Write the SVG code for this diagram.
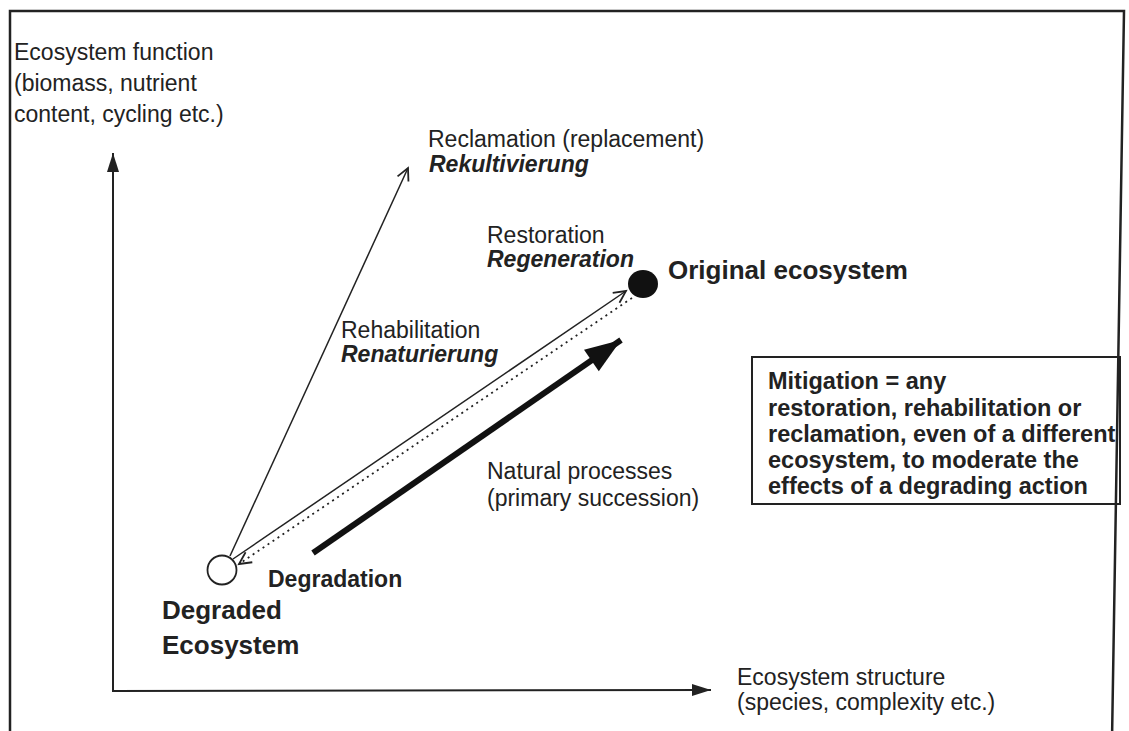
<svg xmlns="http://www.w3.org/2000/svg" width="1129" height="731" viewBox="0 0 1129 731">
<style>
text{font-family:"Liberation Sans",Arial,sans-serif;fill:#222;}
.r{font-size:23px;}
.b{font-size:23px;font-weight:bold;}
.bx{font-size:23.5px;font-weight:bold;}
.bi{font-size:23px;font-weight:bold;font-style:italic;}
.big{font-size:26px;font-weight:bold;}
.axis{stroke:#222;stroke-width:2;fill:none;}
.thin{stroke:#222;stroke-width:1.5;fill:none;}
.dot{stroke:#222;stroke-width:1.8;fill:none;stroke-dasharray:2 4;}
.thick{stroke:#111;stroke-width:6;fill:none;}
</style>
<defs>
<marker id="axhead" markerUnits="userSpaceOnUse" markerWidth="24" markerHeight="16" viewBox="-20 -8 24 16" refX="0" refY="0" orient="auto"><path d="M0,0 L-19,-6 L-19,6 Z" fill="#222"/></marker>
<marker id="open" markerUnits="userSpaceOnUse" markerWidth="18" markerHeight="16" viewBox="-15 -8 18 16" refX="0" refY="0" orient="auto"><path d="M-12,-6 L0,0 L-12,6" fill="none" stroke="#222" stroke-width="1.8"/></marker>
<marker id="bighead" markerUnits="userSpaceOnUse" markerWidth="42" markerHeight="32" viewBox="-38 -16 42 32" refX="0" refY="0" orient="auto"><path d="M0,0 L-36,-13 L-36,13 Z" fill="#111"/></marker>
</defs>
<rect width="1129" height="731" fill="#fff"/>
<path id="frame" d="M1112,740 L1124,11 L10,11 L10,740" fill="none" stroke="#222" stroke-width="2.5"/>
<g id="connectors">
<line class="axis" x1="113" y1="691" x2="113" y2="153" marker-end="url(#axhead)"/>
<line class="axis" x1="112" y1="691" x2="711" y2="690" marker-end="url(#axhead)"/>
<line class="thin" x1="230" y1="556" x2="408" y2="168" marker-end="url(#open)"/>
<line class="thin" x1="233" y1="559" x2="626" y2="291" marker-end="url(#open)"/>
<line class="dot" x1="632" y1="298" x2="239" y2="564" marker-end="url(#open)"/>
<line class="thick" x1="313" y1="553" x2="621" y2="340" marker-end="url(#bighead)"/>
</g>
<g id="y-axis-label">
<text class="r" x="14" y="60">Ecosystem function</text>
<text class="r" x="14" y="91">(biomass, nutrient</text>
<text class="r" x="14" y="122">content, cycling etc.)</text>
</g>
<g id="x-axis-label">
<text class="r" x="737" y="685">Ecosystem structure</text>
<text class="r" x="737" y="710">(species, complexity etc.)</text>
</g>
<g id="reclamation">
<text class="r" x="428" y="147">Reclamation (replacement)</text>
<text class="bi" x="429" y="172">Rekultivierung</text>
</g>
<g id="restoration">
<text class="r" x="487" y="243">Restoration</text>
<text class="bi" x="487" y="267">Regeneration</text>
</g>
<g id="rehabilitation">
<text class="r" x="341" y="338">Rehabilitation</text>
<text class="bi" x="341" y="362">Renaturierung</text>
</g>
<g id="natural">
<text class="r" x="487" y="479">Natural processes</text>
<text class="r" x="487" y="506">(primary succession)</text>
</g>
<g id="original">
<ellipse cx="643" cy="284" rx="15" ry="14" fill="#111"/>
<text class="big" x="668" y="279">Original ecosystem</text>
</g>
<g id="degraded">
<circle cx="222" cy="570" r="14.5" fill="#fff" stroke="#222" stroke-width="1.8"/>
<text class="big" x="162" y="619">Degraded</text>
<text class="big" x="162" y="654">Ecosystem</text>
</g>
<g id="degradation">
<text class="b" x="268" y="587">Degradation</text>
</g>
<g id="mitigation">
<rect x="752" y="357" width="368" height="147" fill="none" stroke="#222" stroke-width="2"/>
<text class="bx" x="768" y="389">Mitigation = any</text>
<text class="bx" x="768" y="416">restoration, rehabilitation or</text>
<text class="bx" x="768" y="442">reclamation, even of a different</text>
<text class="bx" x="768" y="468">ecosystem, to moderate the</text>
<text class="bx" x="768" y="494">effects of a degrading action</text>
</g>
</svg>
